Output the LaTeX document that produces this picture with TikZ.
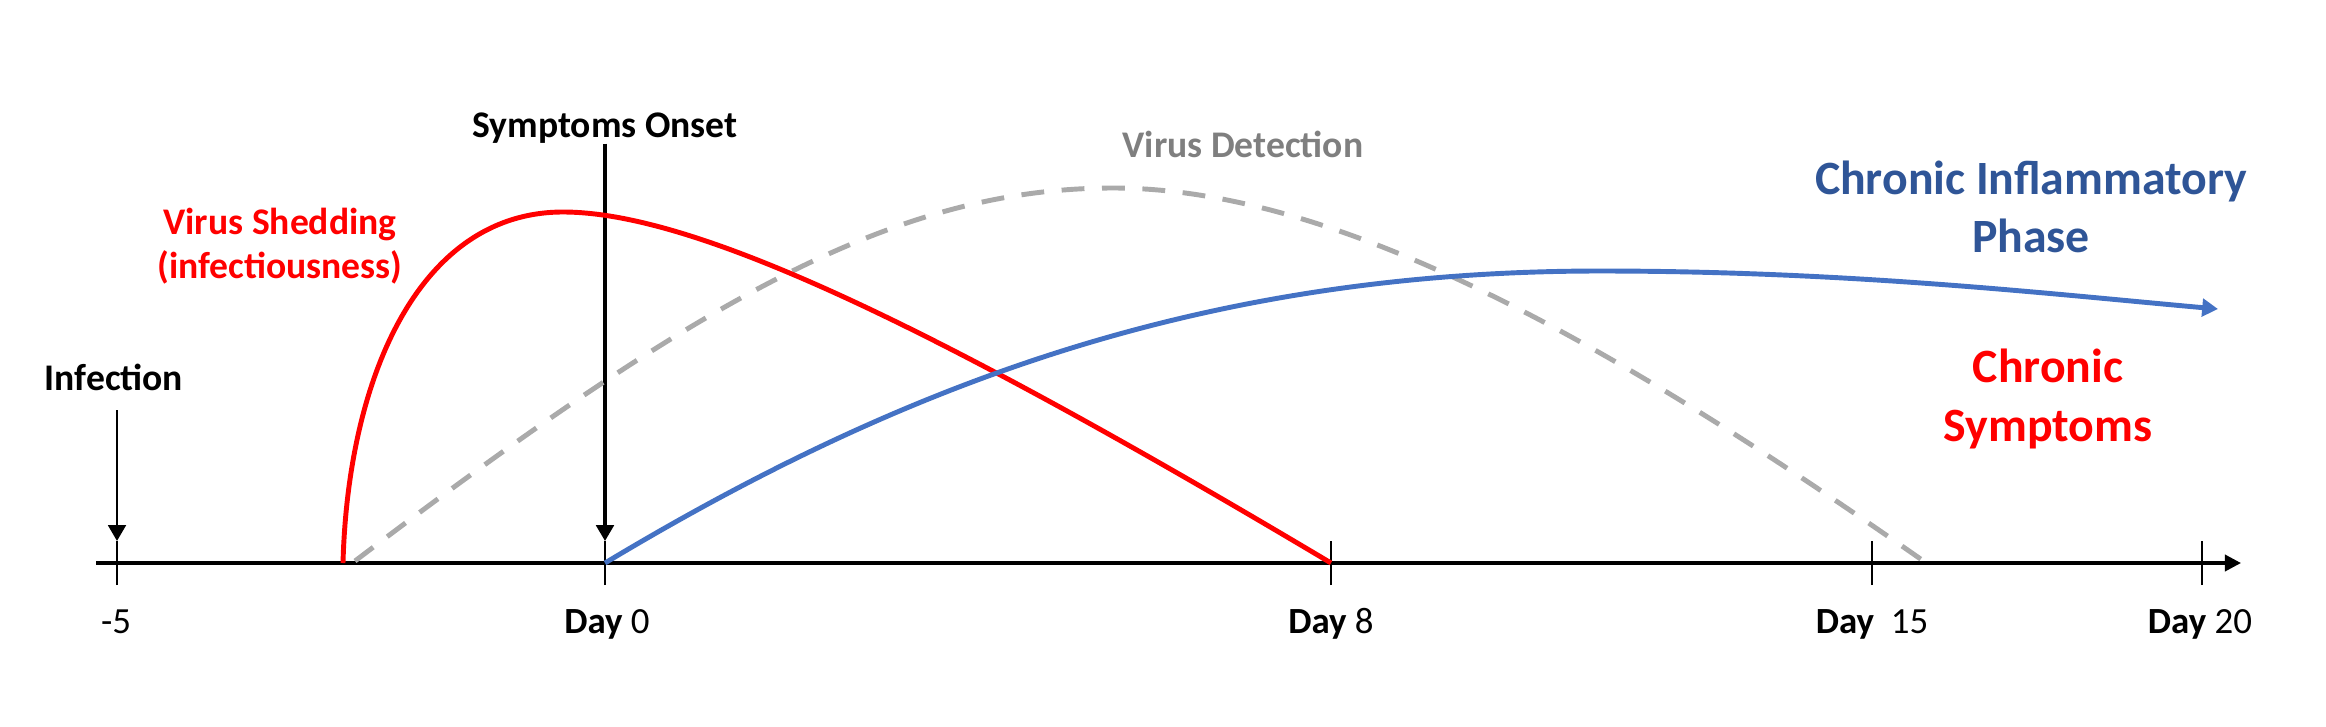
\documentclass[tikz,border=0pt]{standalone}
\usepackage{fontspec}
\setmainfont{Carlito}
\usetikzlibrary{arrows.meta}
\definecolor{shedred}{RGB}{255,0,0}
\definecolor{inflblue}{RGB}{68,114,196}
\definecolor{phaseblue}{RGB}{47,85,151}
\definecolor{detgray}{RGB}{170,170,170}
\definecolor{dettext}{RGB}{127,127,127}
\tikzset{
  lbl/.style={font=\fontsize{10.7}{12.5}\selectfont\bfseries, inner sep=0pt, align=center},
  biglbl/.style={font=\fontsize{13.6}{16.6}\selectfont\bfseries, inner sep=0pt, align=center},
  daylbl/.style={font=\fontsize{10.5}{12}\selectfont, inner sep=0pt, anchor=base},
  curve/.style={line width=1.4pt},
  tickmark/.style={line width=0.6pt},
  tip/.style={-{Triangle[width=5pt,length=4.5pt]}}
}

\begin{document}
\begin{tikzpicture}
  \useasboundingbox (0,0) rectangle (23.26,7.26);
  % time axis
  \coordinate (axstart) at (0.96,1.63);
  \coordinate (axend) at (22.41,1.63);
  \draw[line width=1pt, -{Triangle[width=4.6pt,length=4.6pt]}] (axstart) -- (axend);
  \foreach \x/\n in {1.17/m5, 6.05/d0, 13.31/d8, 18.72/d15, 22.02/d20}
    \draw[tickmark] (\x,1.41) -- (\x,1.85) coordinate (t\n);
  \node[daylbl] (lm5) at (1.16,0.93) {-5};
  \node[daylbl] (ld0) at (6.07,0.93) {\textbf{Day} 0};
  \node[daylbl] (ld8) at (13.31,0.93) {\textbf{Day} 8};
  \node[daylbl] (ld15) at (18.72,0.93) {\textbf{Day}\ \ 15};
  \node[daylbl] (ld20) at (22.00,0.93) {\textbf{Day} 20};

  % events
  \node[lbl, anchor=base] (infect) at (1.14,3.36) {Infection};
  \coordinate (infarr) at (1.17,3.16);
  \draw[line width=0.8pt, tip] (infarr) -- (tm5);
  \node[lbl, anchor=base] (onset) at (6.05,5.89) {Symptoms Onset};
  \draw[line width=0.9pt, tip] (onset.south) -- (td0);

  % curves
  \draw[curve, detgray, dash pattern=on 6.5pt off 5pt] (3.55,1.65)
    .. controls (6.95,4.23) and (8.93,5.38) .. (11.13,5.38)
    .. controls (13.43,5.38) and (16.22,3.76) .. (19.22,1.66);
  \draw[curve, shedred] (3.43,1.63) .. controls (3.48,3.5) and (4.2,5.14) .. (5.63,5.14)
    .. controls (7.0,5.14) and (9.5,3.9) .. (13.31,1.63);
  \draw[curve, inflblue, -{Triangle[width=5pt,length=4.5pt]}] (6.05,1.63)
    .. controls (9.0,3.4) and (12.0,4.55) .. (16.0,4.55)
    .. controls (18.5,4.55) and (20.5,4.32) .. (22.18,4.17);

  % curve labels
  \node[lbl, text=dettext, anchor=base] (detect) at (12.43,5.69) {Virus Detection};
  \node[lbl, text=shedred] (shed) at (2.80,4.80) {Virus Shedding\\(infectiousness)};
  \node[biglbl, text=phaseblue] (phase) at (20.31,5.19) {Chronic Inflammatory\\Phase};
  \node[biglbl, text=shedred] (chronic) at (20.48,3.27) {Chronic\\Symptoms};
\end{tikzpicture}
\end{document}
